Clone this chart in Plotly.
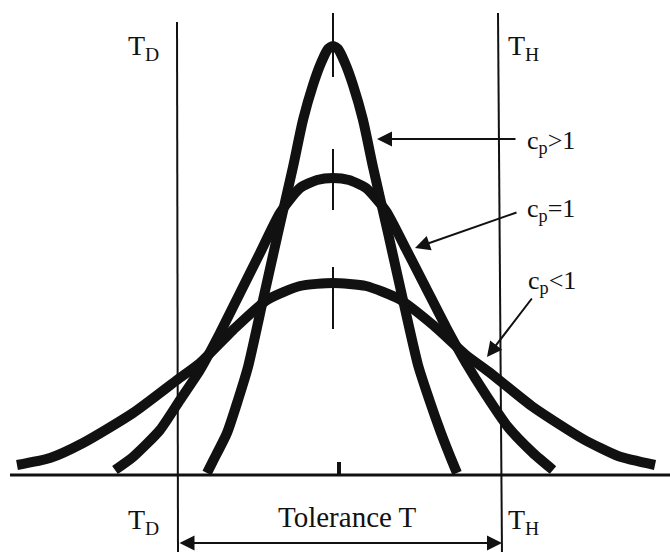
import plotly.graph_objects as go

# Horizontal positions are measured from the process centre, heights from the baseline.
# Normal curves for three process capability cases (digitised outlines)
narrow_x = [-126, -120, -106, -95, -85, -70, -55, -40, -30, -20, -12, -5, 0,
            5, 12, 20, 30, 40, 55, 70, 85, 96, 108, 119, 124]
narrow_h = [2, 14, 42, 75, 108, 175, 242, 308, 355, 390, 412, 426, 429,
            426, 412, 390, 355, 308, 242, 175, 110, 76, 42, 14, 2]

middle_x = [-218, -200, -173, -153, -133, -113, -93, -73, -53, -33, -16, 0,
            16, 33, 53, 73, 93, 113, 133, 153, 175, 200, 220]
middle_h = [5, 18, 45, 75, 105, 142, 182, 222, 262, 287, 295, 297,
            295, 287, 264, 226, 187, 148, 112, 80, 48, 22, 5]

wide_x = [-316, -283, -250, -200, -156, -133, -100, -66, -33, 0,
          33, 66, 100, 133, 156, 200, 250, 285, 322]
wide_h = [10, 17, 32, 62, 95, 112, 145, 175, 189, 192,
          189, 176, 150, 120, 103, 68, 36, 19, 10]

# Tolerance limits and axis of symmetry
td_x, th_x = -156, 167
baseline_x = [-323, 337]
centre_marks = [(398, 462), (265, 326), (146, 208)]

labels_cp = ["c<sub>p</sub>&gt;1", "c<sub>p</sub>=1", "c<sub>p</sub>&lt;1"]

INK = "#111111"
FONT = "Liberation Serif, Times New Roman, DejaVu Serif, serif"

fig = go.Figure()
for xs, hs in [(wide_x, wide_h), (middle_x, middle_h), (narrow_x, narrow_h)]:
    fig.add_trace(go.Scatter(x=xs, y=hs, mode="lines",
                             line=dict(color=INK, width=10, shape="spline", smoothing=0.6),
                             hoverinfo="skip", showlegend=False))

shapes = []
# baseline
shapes.append(dict(type="line", xref="x", yref="y", x0=baseline_x[0], x1=baseline_x[1],
                   y0=0, y1=0, line=dict(color=INK, width=3)))
# tolerance limit lines
shapes.append(dict(type="line", xref="x", yref="y", x0=td_x, x1=td_x + 1,
                   y0=453, y1=-80, line=dict(color=INK, width=2)))
shapes.append(dict(type="line", xref="x", yref="y", x0=th_x - 2, x1=th_x + 2,
                   y0=462, y1=-80, line=dict(color=INK, width=2)))
# centre marks through each peak
for y0, y1 in centre_marks:
    shapes.append(dict(type="line", xref="x", yref="y", x0=0, x1=0,
                       y0=y0, y1=y1, line=dict(color=INK, width=2)))
shapes.append(dict(type="line", xref="x", yref="y", x0=6, x1=6,
                   y0=0, y1=13, line=dict(color=INK, width=4)))

ann = []
def label(text, x, y, size, xanchor="left"):
    ann.append(dict(text=text, x=x, y=y, xref="x", yref="y", showarrow=False,
                    xanchor=xanchor, yanchor="middle",
                    font=dict(family=FONT, size=size, color=INK)))

label("T<sub>D</sub>", -207, 428, 28)
label("T<sub>H</sub>", 173, 428, 28)
label("T<sub>D</sub>", -207, -46, 28)
label("T<sub>H</sub>", 173, -46, 28)
label("Tolerance T", 14, -42, 29, xanchor="center")
label(labels_cp[0], 192, 333, 26)
label(labels_cp[1], 192, 265, 26)
label(labels_cp[2], 193, 193, 26)

def arrow(x0, y0, x1, y1, side="end"):
    a = dict(text="", x=x1, y=y1, ax=x0, ay=y0, xref="x", yref="y",
             axref="x", ayref="y", showarrow=True, arrowhead=2, arrowsize=1.5,
             arrowwidth=2, arrowcolor=INK, standoff=0, startstandoff=0,
             arrowside=side)
    if side != "end":
        a.update(startarrowhead=2, startarrowsize=1.5)
    ann.append(a)

arrow(184, 336, 44, 336)
arrow(185, 263, 82, 227)
arrow(200, 178, 154, 118)
arrow(td_x + 1, -68, th_x + 2, -68, side="end+start")

fig.update_layout(
    width=670, height=552,
    margin=dict(l=0, r=0, t=0, b=0),
    paper_bgcolor="white", plot_bgcolor="white",
    xaxis=dict(range=[-333, 337], visible=False, fixedrange=True),
    yaxis=dict(range=[-77, 475], visible=False, fixedrange=True),
    shapes=shapes, annotations=ann,
)

fig.write_html("out.html")
